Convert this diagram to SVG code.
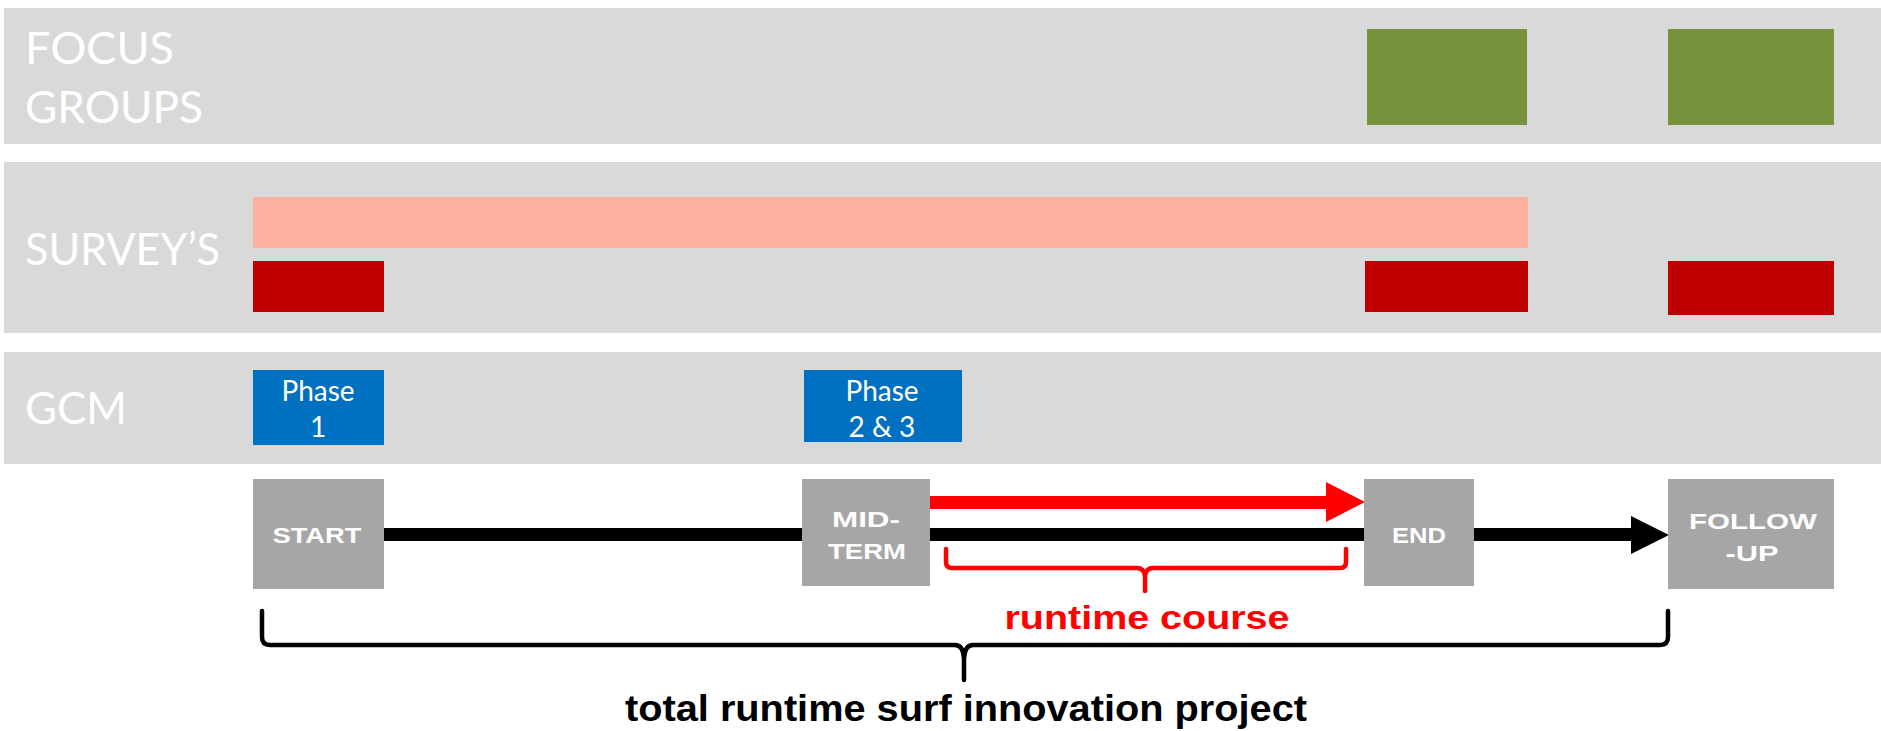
<svg xmlns="http://www.w3.org/2000/svg" width="1881" height="731" viewBox="0 0 1881 731">
<style>
.band{fill:#D9D9D9}
.lbl{font-family:Lato,"Liberation Sans",sans-serif;font-size:45px;fill:#FFFFFF}
.green{fill:#77933C}
.peach{fill:#FFB09F}
.red{fill:#C00000}
.blue{fill:#0070C0}
.ph{font-family:Lato,"Liberation Sans",sans-serif;font-size:28px;fill:#FFFFFF;text-anchor:middle}
.node{fill:#A6A6A6}
.nt{font-family:"Liberation Sans",Arial,sans-serif;font-weight:bold;font-size:22px;fill:#FFFFFF;text-anchor:middle}
.brace{fill:none;stroke-width:4.5;stroke-linecap:round;stroke-linejoin:round}
.bt{font-family:"Liberation Sans",Arial,sans-serif;font-weight:bold;text-anchor:middle}
</style>
<g id="bands">
<rect class="band" x="4" y="8" width="1877" height="136"/>
<rect class="band" x="4" y="162" width="1877" height="171"/>
<rect class="band" x="4" y="352" width="1877" height="112"/>
<text class="lbl" x="25" y="64" textLength="149" lengthAdjust="spacingAndGlyphs">FOCUS</text>
<text class="lbl" x="25" y="123" textLength="178" lengthAdjust="spacingAndGlyphs">GROUPS</text>
<text class="lbl" x="25" y="265" textLength="195" lengthAdjust="spacingAndGlyphs">SURVEY’S</text>
<text class="lbl" x="25" y="424" textLength="102" lengthAdjust="spacingAndGlyphs">GCM</text>
</g>
<g id="focus-groups">
<rect class="green" x="1367" y="29" width="160" height="96"/>
<rect class="green" x="1668" y="29" width="166" height="96"/>
</g>
<g id="surveys">
<rect class="peach" x="253" y="197" width="1275" height="51"/>
<rect class="red" x="253" y="261" width="131" height="51"/>
<rect class="red" x="1365" y="261" width="163" height="51"/>
<rect class="red" x="1668" y="261" width="166" height="54"/>
</g>
<g id="phase1">
<rect class="blue" x="253" y="370" width="131" height="75"/>
<text class="ph" x="318" y="401">Phase</text>
<text class="ph" x="318" y="437">1</text>
</g>
<g id="phase23">
<rect class="blue" x="804" y="370" width="158" height="72"/>
<text class="ph" x="882" y="401">Phase</text>
<text class="ph" x="882" y="437">2 &amp; 3</text>
</g>
<g id="connectors">
<rect x="384" y="528" width="1248" height="13" fill="#000000"/>
<polygon points="1631,516 1669,535 1631,554" fill="#000000"/>
<rect x="930" y="496" width="397" height="13" fill="#FF0000"/>
<polygon points="1326,482 1365,502 1326,522" fill="#FF0000"/>
<path class="brace" stroke="#FF0000" d="M946,549 V562 Q946,568 952,568 H1137 Q1144,568 1145,576 V591 M1145,576 Q1146,568 1153,568 H1340 Q1346,568 1346,562 V549"/>
<path class="brace" stroke="#000000" d="M262,611 V637 Q262,645 270,645 H955 Q963,645 964,658 V680 M964,658 Q965,645 973,645 H1660 Q1668,645 1668,637 V611"/>
</g>
<g id="start">
<rect class="node" x="253" y="479" width="131" height="110"/>
<text class="nt" x="317" y="543" textLength="89" lengthAdjust="spacingAndGlyphs">START</text>
</g>
<g id="midterm">
<rect class="node" x="802" y="479" width="128" height="107"/>
<text class="nt" x="866" y="527" textLength="68" lengthAdjust="spacingAndGlyphs">MID-</text>
<text class="nt" x="867" y="559" textLength="78" lengthAdjust="spacingAndGlyphs">TERM</text>
</g>
<g id="end">
<rect class="node" x="1364" y="479" width="110" height="107"/>
<text class="nt" x="1419" y="543" textLength="54" lengthAdjust="spacingAndGlyphs">END</text>
</g>
<g id="followup">
<rect class="node" x="1668" y="479" width="166" height="110"/>
<text class="nt" x="1753" y="529" textLength="128" lengthAdjust="spacingAndGlyphs">FOLLOW</text>
<text class="nt" x="1752" y="561" textLength="53" lengthAdjust="spacingAndGlyphs">-UP</text>
</g>
<g id="labels">
<text class="bt" x="1147" y="629" font-size="33" fill="#FF0000" textLength="285" lengthAdjust="spacingAndGlyphs">runtime course</text>
<text class="bt" x="966" y="721" font-size="36" fill="#000000" textLength="682" lengthAdjust="spacingAndGlyphs">total runtime surf innovation project</text>
</g>
</svg>
